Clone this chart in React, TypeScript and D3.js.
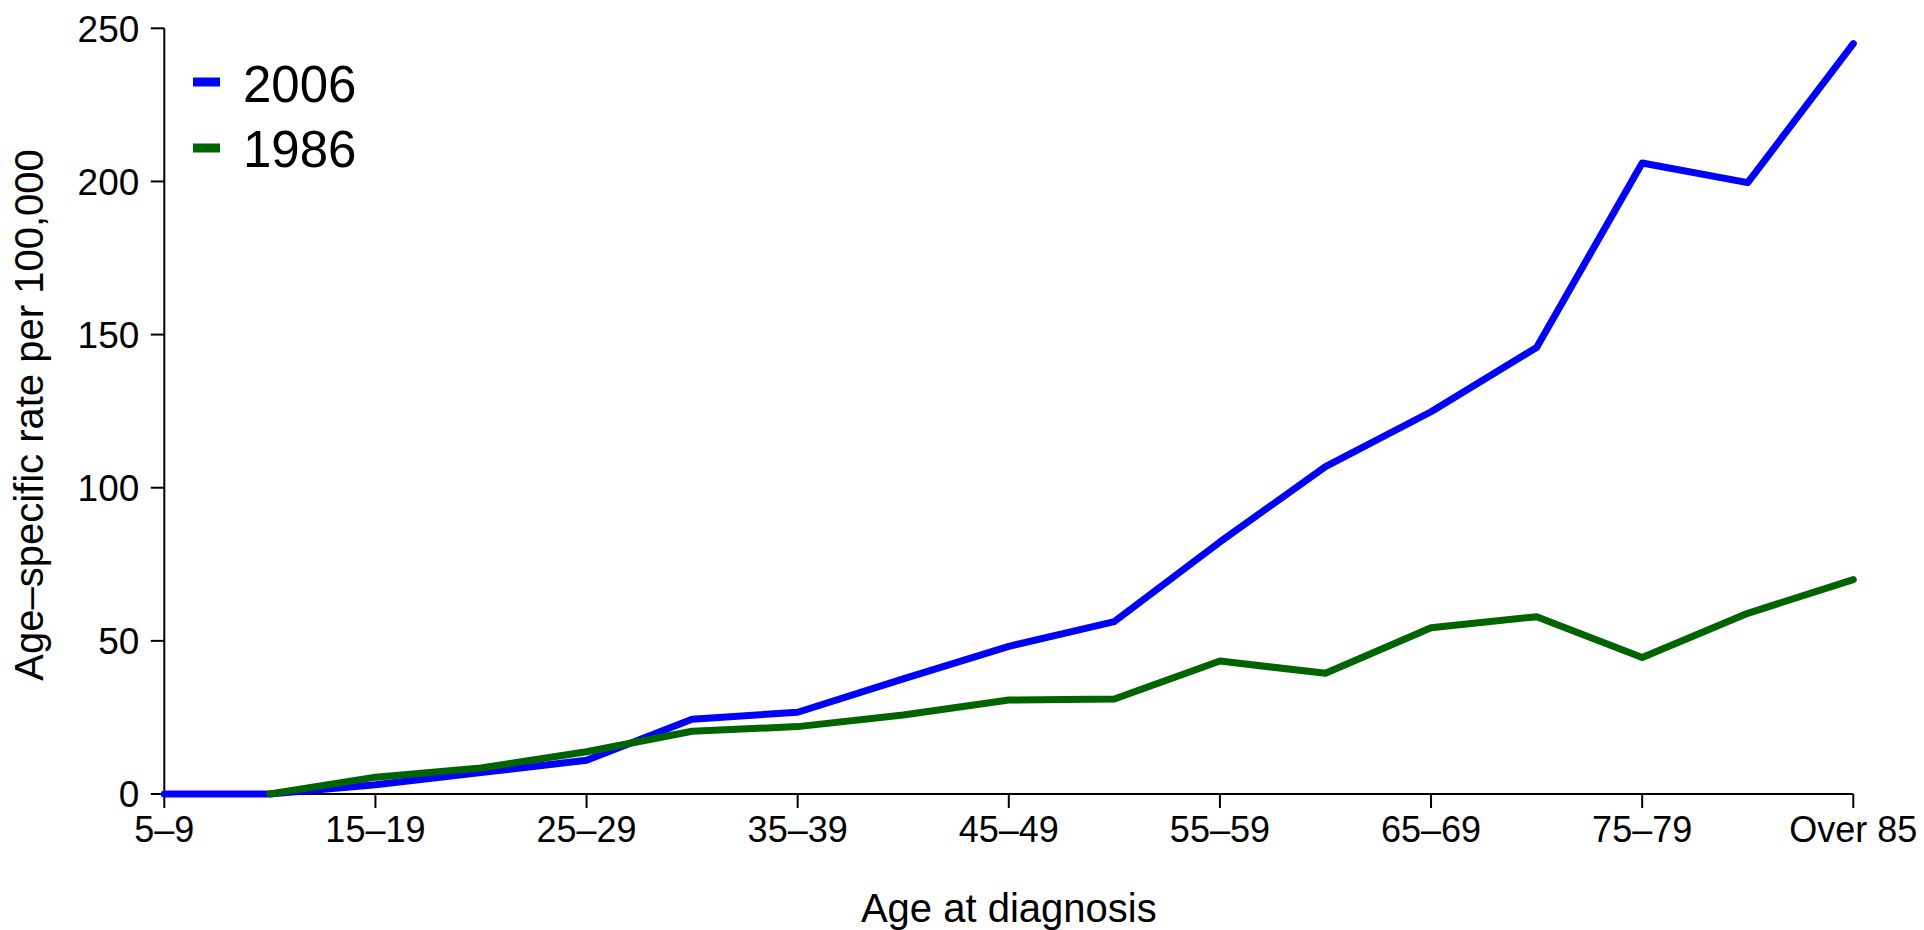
import React from "react";
import * as d3 from "d3";

const categories = [
  "5–9", "10–14", "15–19", "20–24", "25–29", "30–34", "35–39", "40–44",
  "45–49", "50–54", "55–59", "60–64", "65–69", "70–74", "75–79", "80–84", "Over 85",
];
const tickLabels = ["5–9", "15–19", "25–29", "35–39", "45–49", "55–59", "65–69", "75–79", "Over 85"];
const yTicks = [0, 50, 100, 150, 200, 250];

const rate2006: (number | null)[] = [0, 0, 3, 7, 11, 24.4, 26.7, 37.6, 48.2, 56.3, 82.3, 106.9, 124.8, 145.8, 206, 199.6, 245];
const rate1986: (number | null)[] = [null, 0, 5.5, 8.5, 13.8, 20.5, 22, 25.8, 30.7, 31, 43.4, 39.4, 54.3, 57.9, 44.6, 59, 70];

const seriesNames = ["2006", "1986"];
const seriesColors = ["#0000ff", "#006400"];

const W = 1924;
const H = 930;
const left = 164.3;
const right = 1853.3;
const top = 28.3;
const bottom = 794;

export default function App() {
  const x = d3.scalePoint<string>().domain(categories).range([left, right]);
  const y = d3.scaleLinear().domain([0, 250]).range([bottom, top]);
  const line = d3
    .line<number | null>()
    .defined((d) => d !== null)
    .x((_, i) => x(categories[i]) as number)
    .y((d) => y(d as number));

  const font = "'Liberation Sans', Arial, Helvetica, sans-serif";
  const series = [rate2006, rate1986];

  return (
    <svg
      width={W}
      height={H}
      style={{ position: "absolute", left: 0, top: 0, background: "#fff" }}
      fontFamily={font}
    >
      {/* y axis */}
      <line x1={left} x2={left} y1={y(0)} y2={y(250)} stroke="#000" strokeWidth={2} />
      {yTicks.map((t) => (
        <g key={t}>
          <line x1={left - 13.5} x2={left} y1={y(t)} y2={y(t)} stroke="#000" strokeWidth={2} />
          <text x={left - 25} y={y(t)} dy="0.36em" textAnchor="end" fontSize={37} fill="#000">
            {t}
          </text>
        </g>
      ))}
      {/* x axis */}
      <line x1={left} x2={right} y1={bottom} y2={bottom} stroke="#000" strokeWidth={2} />
      {tickLabels.map((c) => (
        <g key={c}>
          <line x1={x(c)} x2={x(c)} y1={bottom} y2={bottom + 14} stroke="#000" strokeWidth={2} />
          <text x={x(c)} y={842.3} textAnchor="middle" fontSize={36} fill="#000">
            {c}
          </text>
        </g>
      ))}
      {/* axis titles */}
      <text x={(left + right) / 2} y={921.5} textAnchor="middle" fontSize={40} fill="#000">
        Age at diagnosis
      </text>
      <text
        transform={`translate(43, 415) rotate(-90)`}
        textAnchor="middle"
        fontSize={40}
        fill="#000"
      >
        Age–specific rate per 100,000
      </text>
      {/* lines */}
      {series.map((s, i) => (
        <path
          key={seriesNames[i]}
          d={line(s) || ""}
          fill="none"
          stroke={seriesColors[i]}
          strokeWidth={7}
          strokeLinecap="round"
          strokeLinejoin="round"
        />
      ))}
      {/* legend */}
      {seriesNames.map((n, i) => (
        <g key={n}>
          <line
            x1={193}
            x2={220}
            y1={82 + i * 66}
            y2={82 + i * 66}
            stroke={seriesColors[i]}
            strokeWidth={9}
          />
          <text x={243} y={101.7 + i * 65.5} fontSize={51} fill="#000">
            {n}
          </text>
        </g>
      ))}
    </svg>
  );
}
